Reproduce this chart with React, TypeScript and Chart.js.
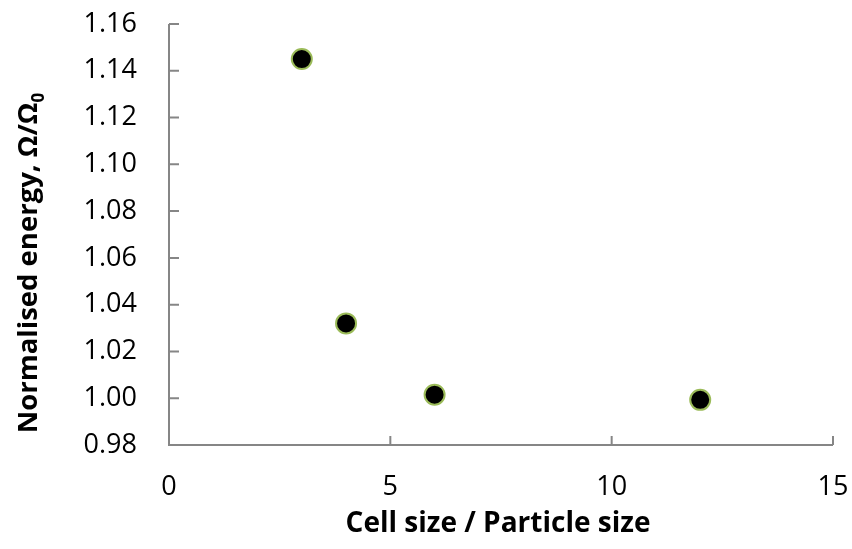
import React, { useEffect, useRef } from "react";
import { Chart, registerables } from "chart.js";

Chart.register(...registerables);

// ---- data ----
const CELL_RATIO = [3, 4, 6, 12];
const NORMALISED_ENERGY = [1.145, 1.032, 1.0015, 0.9993];
const X_TICKS = [0, 5, 10, 15];
const Y_TICKS = [0.98, 1.0, 1.02, 1.04, 1.06, 1.08, 1.1, 1.12, 1.14, 1.16];
const X_TITLE = "Cell size / Particle size";
const Y_TITLE_MAIN = "Normalised energy, Ω/Ω";
const Y_TITLE_SUB = "0";

const FONT = "'Open Sans', Lato, sans-serif";
const AXIS_COLOR = "#868686";

const decorPlugin = {
  id: "decor",
  beforeDatasetsDraw(chart: any) {
    const { ctx, chartArea, scales } = chart;
    const { left, right, top, bottom } = chartArea;
    const x = scales.x;
    const y = scales.y;
    ctx.save();
    ctx.strokeStyle = AXIS_COLOR;
    ctx.lineWidth = 2;
    ctx.beginPath();
    ctx.moveTo(left, top);
    ctx.lineTo(left, bottom);
    ctx.lineTo(right, bottom);
    y.ticks.forEach((t: any) => {
      const py = y.getPixelForValue(t.value);
      ctx.moveTo(left, py);
      ctx.lineTo(left + 10, py);
    });
    x.ticks.forEach((t: any) => {
      const px = x.getPixelForValue(t.value);
      ctx.moveTo(px, bottom);
      ctx.lineTo(px, bottom - 9);
    });
    ctx.stroke();

    // x title
    ctx.fillStyle = "#000";
    ctx.font = `bold 28px ${FONT}`;
    ctx.textAlign = "center";
    ctx.textBaseline = "alphabetic";
    ctx.fillText(X_TITLE, 498, 532);

    // y title with subscript
    ctx.font = `bold 27.5px ${FONT}`;
    const mainW = ctx.measureText(Y_TITLE_MAIN).width;
    ctx.font = `bold 17px ${FONT}`;
    const subW = ctx.measureText(Y_TITLE_SUB).width;
    const total = mainW + subW;
    const cy = 263;
    ctx.translate(37, cy + total / 2);
    ctx.rotate(-Math.PI / 2);
    ctx.textAlign = "left";
    ctx.font = `bold 27.5px ${FONT}`;
    ctx.fillText(Y_TITLE_MAIN, 0, 0);
    ctx.font = `bold 17px ${FONT}`;
    ctx.fillText(Y_TITLE_SUB, mainW, 7);
    ctx.restore();
  },
};

const zeroPadding = (s: any) => {
  s.paddingLeft = 0;
  s.paddingRight = 0;
  s.paddingTop = 0;
  s.paddingBottom = 0;
};

export default function App() {
  const ref = useRef<HTMLCanvasElement | null>(null);
  useEffect(() => {
    document.body.style.margin = "0";
    const canvas = ref.current;
    if (!canvas) return;
    const chart = new Chart(canvas, {
      type: "scatter",
      data: {
        datasets: [
          {
            data: CELL_RATIO.map((v, i) => ({ x: v, y: NORMALISED_ENERGY[i] })),
            backgroundColor: "#000000",
            borderColor: "#9BBB59",
            borderWidth: 2,
            pointRadius: 10,
            pointHoverRadius: 10,
          },
        ],
      },
      options: {
        responsive: false,
        animation: false,
        layout: { padding: { top: 24, right: 19, left: 0, bottom: 0 } },
        plugins: { legend: { display: false }, tooltip: { enabled: false } },
        scales: {
          x: {
            type: "linear",
            min: 0,
            max: 15,
            afterBuildTicks: (s: any) => {
              s.ticks = X_TICKS.map((v) => ({ value: v }));
            },
            afterFit: (s: any) => {
              s.height = 104;
              zeroPadding(s);
            },
            grid: { display: false, drawTicks: false },
            border: { display: false },
            ticks: {
              color: "#000",
              font: { family: FONT, size: 27 },
              padding: 26,
              maxRotation: 0,
              callback: (v: any) => String(v),
            },
          },
          y: {
            type: "linear",
            min: 0.98,
            max: 1.16,
            afterBuildTicks: (s: any) => {
              s.ticks = Y_TICKS.map((v) => ({ value: v }));
            },
            afterFit: (s: any) => {
              s.width = 169;
              zeroPadding(s);
            },
            grid: { display: false, drawTicks: false },
            border: { display: false },
            ticks: {
              color: "#000",
              font: { family: FONT, size: 27 },
              padding: 32,
              callback: (v: any) => Number(v).toFixed(2),
            },
          },
        },
      },
      plugins: [decorPlugin],
    });
    return () => chart.destroy();
  }, []);
  return (
    <div style={{ width: 852, height: 549, background: "#fff" }}>
      <canvas ref={ref} width={852} height={549} />
    </div>
  );
}
